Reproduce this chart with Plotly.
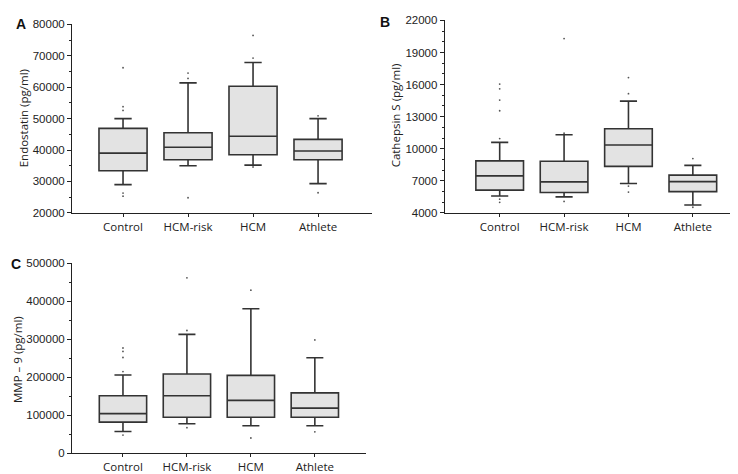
import plotly.graph_objects as go

# ── Data ──────────────────────────────────────────────────────────
groups = ["Control", "HCM-risk", "HCM", "Athlete"]

# A: Endostatin (pg/ml)
endo_q1 = [33400, 36900, 38500, 36900]
endo_med = [39000, 40900, 44400, 39700]
endo_q3 = [46900, 45500, 60300, 43400]
endo_lo = [29000, 35000, 35200, 29300]
endo_hi = [50000, 61400, 67900, 50000]
endo_out_x = ["Control", "Control", "Control", "Control", "Control",
              "HCM-risk", "HCM-risk", "HCM-risk",
              "HCM", "HCM", "HCM",
              "Athlete", "Athlete"]
endo_out_y = [66200, 53800, 52600, 26300, 25300,
              64500, 62800, 24800,
              76500, 69300, 34600,
              50900, 26400]

# B: Cathepsin S (pg/ml)
cath_q1 = [6120, 5900, 8350, 5980]
cath_med = [7460, 6900, 10350, 6920]
cath_q3 = [8860, 8830, 11870, 7530]
cath_lo = [5580, 5490, 6740, 4730]
cath_hi = [10590, 11300, 14450, 8440]
cath_out_x = ["Control"] * 7 + ["HCM-risk"] * 3 + ["HCM"] * 4 + ["Athlete"] * 2
cath_out_y = [16050, 15600, 14550, 13550, 10950, 5280, 4980,
              20300, 11450, 5070,
              16650, 15150, 6500, 5940,
              9080, 4520]

# C: MMP-9 (pg/ml)
mmp_q1 = [82000, 94900, 94900, 94900]
mmp_med = [104300, 151300, 139300, 118800]
mmp_q3 = [151300, 208500, 205100, 159000]
mmp_lo = [57300, 77800, 72600, 72600]
mmp_hi = [206000, 312800, 380300, 251300]
mmp_out_x = ["Control"] * 5 + ["HCM-risk"] * 3 + ["HCM"] * 2 + ["Athlete"] * 2
mmp_out_y = [277000, 268000, 252000, 215000, 48000,
             461500, 323000, 67500,
             429000, 40200,
             298300, 56400]

W, H = 738, 474
BOX_FILL = "#e3e3e3"
LINE = "#333333"
TICK_FONT = dict(family="Liberation Sans, Arial", size=11.5, color="#222")
CAT_FONT = dict(family="Open Sans, Arial", size=11.5, color="#222")


def px_x(p):
    return p / W


def px_y(p):
    return 1 - p / H


fig = go.Figure()

panels = [
    ("x", "y", endo_q1, endo_med, endo_q3, endo_lo, endo_hi, endo_out_x, endo_out_y),
    ("x2", "y2", cath_q1, cath_med, cath_q3, cath_lo, cath_hi, cath_out_x, cath_out_y),
    ("x3", "y3", mmp_q1, mmp_med, mmp_q3, mmp_lo, mmp_hi, mmp_out_x, mmp_out_y),
]

for xa, ya, q1, med, q3, lo, hi, ox, oy in panels:
    fig.add_trace(go.Box(
        x=groups, q1=q1, median=med, q3=q3,
        lowerfence=lo, upperfence=hi,
        width=0.74, whiskerwidth=0.36,
        fillcolor=BOX_FILL, line=dict(color=LINE, width=1.6),
        boxpoints=False, hoverinfo="y",
        xaxis=xa, yaxis=ya, showlegend=False,
    ))
    fig.add_trace(go.Scatter(
        x=ox, y=oy, mode="markers",
        marker=dict(size=1.8, color="#555"),
        xaxis=xa, yaxis=ya, showlegend=False,
    ))

xcommon = dict(
    type="category", categoryorder="array", categoryarray=groups,
    showline=True, linecolor="#222", linewidth=1,
    ticks="outside", ticklen=3, tickcolor="#222",
    showgrid=False, zeroline=False, tickfont=CAT_FONT,
)
ycommon = dict(
    showline=True, linecolor="#222", linewidth=1,
    ticks="outside", ticklen=4, tickcolor="#222", tickformat="d",
    showgrid=False, zeroline=False, tickfont=TICK_FONT,
)

fig.update_layout(
    width=W, height=H,
    margin=dict(l=0, r=0, t=0, b=0),
    plot_bgcolor="white", paper_bgcolor="white",
    showlegend=False,
    xaxis=dict(xcommon, domain=[px_x(64), px_x(364)], range=[-0.785, 3.83], anchor="y"),
    yaxis=dict(ycommon, domain=[px_y(204), px_y(10.7)], range=[20000, 80000],
               tickvals=[20000, 30000, 40000, 50000, 60000, 70000, 80000],
               minor=dict(ticks="outside", ticklen=2, tickcolor="#222", dtick=5000),
               anchor="x"),
    xaxis2=dict(xcommon, domain=[px_x(436.7), px_x(737)], range=[-0.854, 3.81], anchor="y2"),
    yaxis2=dict(ycommon, domain=[px_y(204), px_y(6.6)], range=[4000, 22000],
                tickvals=[4000, 7000, 10000, 13000, 16000, 19000, 22000],
                minor=dict(ticks="outside", ticklen=2, tickcolor="#222", dtick=1000),
                anchor="x2"),
    xaxis3=dict(xcommon, domain=[px_x(64), px_x(358)], range=[-0.797, 3.80], anchor="y3"),
    yaxis3=dict(ycommon, domain=[px_y(450.7), px_y(255.7)], range=[0, 500000],
                tickvals=[0, 100000, 200000, 300000, 400000, 500000],
                minor=dict(ticks="outside", ticklen=2, tickcolor="#222", dtick=50000),
                anchor="x3"),
)

# panel letters and y titles
for letter, x, y in [("A", 13, 10), ("B", 377, 8), ("C", 8, 257)]:
    fig.add_annotation(text=f"<b>{letter}</b>", x=px_x(x), y=px_y(y),
                       xref="paper", yref="paper", showarrow=False,
                       xanchor="center", yanchor="middle",
                       font=dict(family="Liberation Sans, Arial", size=14, color="#111"))

for title, x, y in [("Endostatin (pg/ml)", 15, 107),
                    ("Cathepsin S (pg/ml)", 387, 104),
                    ("MMP – 9 (pg/ml)", 9, 355)]:
    fig.add_annotation(text=title, x=px_x(x), y=px_y(y),
                       xref="paper", yref="paper", showarrow=False,
                       textangle=-90, xanchor="center", yanchor="middle",
                       font=dict(family="Open Sans, Arial", size=11.5, color="#222"))

fig.write_html("out.html")
